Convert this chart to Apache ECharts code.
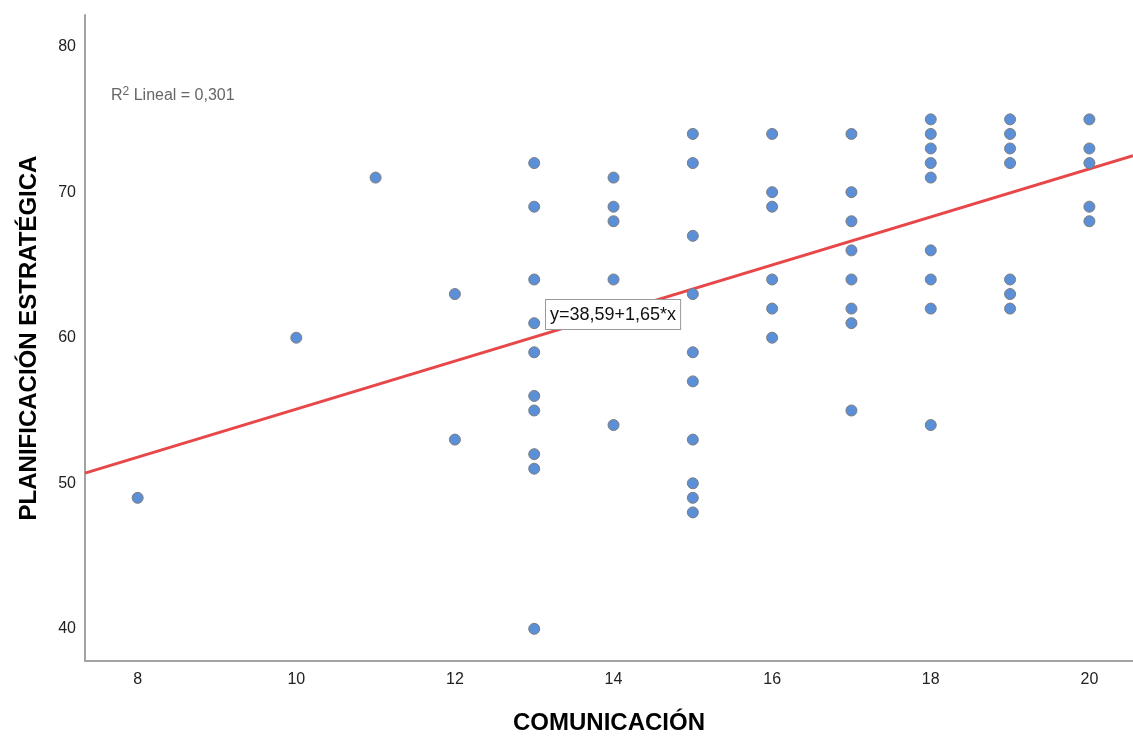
<!DOCTYPE html>
<html>
<head>
<meta charset="utf-8">
<script src="https://cdn.jsdelivr.net/npm/echarts@6/dist/echarts.min.js"></script>
<style>html,body{margin:0;padding:0;background:#fff}#c{width:1133px;height:740px}</style>
</head>
<body>
<div id="c"></div>
<script>
// Data: x = COMUNICACIÓN, y = PLANIFICACIÓN ESTRATÉGICA
const comunicacion = [
  8,
  10,
  11,
  12, 12,
  13, 13, 13, 13, 13, 13, 13, 13, 13, 13,
  14, 14, 14, 14, 14,
  15, 15, 15, 15, 15, 15, 15, 15, 15, 15,
  16, 16, 16, 16, 16, 16,
  17, 17, 17, 17, 17, 17, 17, 17,
  18, 18, 18, 18, 18, 18, 18, 18, 18,
  19, 19, 19, 19, 19, 19, 19,
  20, 20, 20, 20, 20
];
const planificacion = [
  49,
  60,
  71,
  63, 53,
  72, 69, 64, 61, 59, 56, 55, 52, 51, 40,
  71, 69, 68, 64, 54,
  74, 72, 67, 63, 59, 57, 53, 50, 49, 48,
  74, 70, 69, 64, 62, 60,
  74, 70, 68, 66, 64, 62, 61, 55,
  75, 74, 73, 72, 71, 66, 64, 62, 54,
  75, 74, 73, 72, 64, 63, 62,
  75, 73, 72, 69, 68
];
// Regression reported on the chart
const intercept = 38.59;
const slope = 1.65;
const r2Text = '0,301';
const eqText = 'y=38,59+1,65*x';
// Axis tick labels
const xTicks = [8, 10, 12, 14, 16, 18, 20];
const yTicks = [40, 50, 60, 70, 80];
const xRange = [7.336, 20.55];
const yRange = [37.79, 82.17];

const points = comunicacion.map((x, i) => [x, planificacion[i]]);
const fitLine = xRange.map(x => [x, intercept + slope * x]);

const FONT = '"Liberation Sans", Arial, sans-serif';
const chart = echarts.init(document.getElementById('c'), null, {renderer: 'canvas'});
chart.setOption({
  animation: false,
  backgroundColor: '#ffffff',
  grid: {left: 85, right: 0, top: 15, bottom: 74, containLabel: false},
  xAxis: {
    type: 'value',
    min: xRange[0], max: xRange[1],
    name: 'COMUNICACIÓN',
    nameLocation: 'middle',
    nameGap: 50,
    nameTextStyle: {fontFamily: FONT, fontSize: 24, fontWeight: 'bold', color: '#000'},
    axisLine: {show: true, lineStyle: {color: '#a3a3a3', width: 2}},
    axisTick: {show: false},
    splitLine: {show: false},
    axisLabel: {customValues: xTicks, margin: 11, fontFamily: FONT, fontSize: 16, color: '#222'}
  },
  yAxis: {
    type: 'value',
    min: yRange[0], max: yRange[1],
    name: 'PLANIFICACIÓN ESTRATÉGICA',
    nameLocation: 'middle',
    nameGap: 44,
    nameTextStyle: {fontFamily: FONT, fontSize: 24, fontWeight: 'bold', color: '#000'},
    axisLine: {show: true, onZero: false, lineStyle: {color: '#a3a3a3', width: 2}},
    axisTick: {show: false},
    splitLine: {show: false},
    axisLabel: {customValues: yTicks, margin: 9, fontFamily: FONT, fontSize: 16, color: '#222'}
  },
  series: [
    {
      type: 'line',
      data: fitLine,
      symbol: 'none',
      lineStyle: {color: '#e8474a', width: 3},
      z: 2,
      silent: true
    },
    {
      type: 'scatter',
      data: points,
      symbol: 'circle',
      symbolSize: 11,
      itemStyle: {color: '#5b90d9', borderColor: '#7d7d7d', borderWidth: 1, opacity: 1},
      z: 3
    }
  ],
  graphic: [
    {
      type: 'text',
      left: 111,
      top: 86,
      z: 10,
      style: {
        text: 'R{sup|2} Lineal = ' + r2Text,
        fontFamily: FONT,
        fontSize: 16,
        fill: '#666',
        rich: {sup: {fontFamily: FONT, fontSize: 12, fill: '#666', verticalAlign: 'top', padding: [0, 0, 7, 0]}}
      }
    },
    {
      type: 'text',
      left: 545,
      top: 299,
      z: 10,
      style: {
        text: eqText,
        fontFamily: FONT,
        fontSize: 18,
        fill: '#111',
        backgroundColor: '#fff',
        borderColor: '#9a9a9a',
        borderWidth: 1,
        padding: [6, 4, 5, 4]
      }
    }
  ]
});
</script>
</body>
</html>
